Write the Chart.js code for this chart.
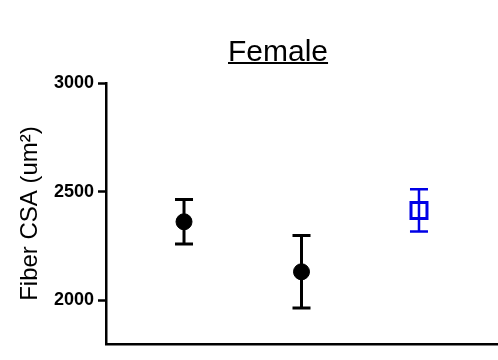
<!DOCTYPE html>
<html>
<head>
<meta charset="utf-8">
<script src="https://cdn.jsdelivr.net/npm/chart.js@4"></script>
<style>
  body { margin: 0; background: #fff; }
  #wrap { position: relative; width: 498px; height: 360px; }
  #title {
    position: absolute; left: 228px; top: 36px;
    font: 30px "Liberation Sans", Arial, sans-serif; line-height: 30px;
    text-decoration: underline; text-decoration-thickness: 2px;
    color: #000;
  }
</style>
</head>
<body>
<div id="wrap">
  <canvas id="chart" width="498" height="360"></canvas>
  <div id="title">Female</div>
</div>
<script>
// group positions along the (unlabelled) x axis
var groupPos = [1, 2, 3];
var means = [2362, 2132, 2414];
var errors = [102, 167, 97];
var yTicks = [2000, 2500, 3000];

var pointColors = ['#000000', '#000000', '#0000e6'];
var pointStyles = ['circle', 'circle', 'rect'];

// error bars drawn through the chart scales
var errorBars = {
  id: 'errorBars',
  afterDatasetsDraw: function (chart) {
    var ctx = chart.ctx;
    var xs = chart.scales.x, ys = chart.scales.y;
    ctx.save();
    for (var i = 0; i < means.length; i++) {
      var x = xs.getPixelForValue(groupPos[i]);
      var top = ys.getPixelForValue(means[i] + errors[i]);
      var bot = ys.getPixelForValue(means[i] - errors[i]);
      ctx.strokeStyle = pointColors[i];
      ctx.lineWidth = i === 2 ? 2.5 : 3;
      ctx.beginPath();
      ctx.moveTo(x, top); ctx.lineTo(x, bot);
      ctx.moveTo(x - 9, top); ctx.lineTo(x + 9, top);
      ctx.moveTo(x - 9, bot); ctx.lineTo(x + 9, bot);
      ctx.stroke();
    }
    ctx.restore();
  }
};

var ctx = document.getElementById('chart').getContext('2d');
var chart = new Chart(ctx, {
  type: 'scatter',
  data: {
    datasets: [{
      data: groupPos.map(function (x, i) { return { x: x, y: means[i] }; }),
      pointStyle: pointStyles,
      pointRadius: [8, 8, 11.3],
      pointBorderWidth: [1, 1, 3],
      pointBackgroundColor: ['#000', '#000', 'rgba(0,0,0,0)'],
      pointBorderColor: pointColors
    }]
  },
  options: {
    responsive: false,
    animation: false,
    layout: { autoPadding: false, padding: { top: 83, right: 1, bottom: 16, left: 0 } },
    scales: {
      x: {
        type: 'linear',
        min: 0.336,
        max: 3.664,
        grid: { display: false, drawTicks: false },
        ticks: { display: false },
        border: { display: true, color: '#000', width: 2.5 }
      },
      y: {
        min: 1800,
        max: 3000,
        afterFit: function (scale) { scale.width = 106; },
        afterBuildTicks: function (scale) {
          scale.ticks = yTicks.map(function (v) { return { value: v }; });
        },
        grid: {
          drawOnChartArea: false,
          drawTicks: true,
          tickLength: 8,
          tickWidth: 2.5,
          tickColor: '#000'
        },
        border: { display: true, color: '#000', width: 2.5 },
        ticks: {
          padding: 4,
          color: '#000',
          font: { family: 'Liberation Sans, Arial', size: 18, weight: 'bold' },
          callback: function (v) { return String(v); }
        },
        title: {
          display: true,
          text: 'Fiber CSA (um²)',
          color: '#000',
          padding: { top: 16, bottom: 0 },
          font: { family: 'Liberation Sans, Arial', size: 24 }
        }
      }
    },
    plugins: {
      legend: { display: false },
      tooltip: { enabled: false }
    }
  },
  plugins: [errorBars]
});
</script>
</body>
</html>
